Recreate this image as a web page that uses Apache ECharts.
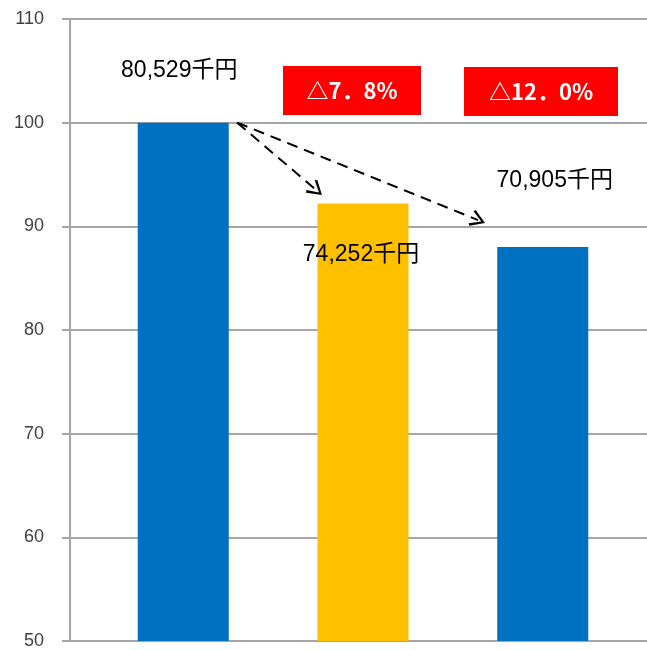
<!DOCTYPE html>
<html>
<head>
<meta charset="utf-8">
<script src="https://cdn.jsdelivr.net/npm/echarts@6/dist/echarts.min.js"></script>
<style>
  html, body { margin: 0; padding: 0; background: #fff; }
  #main { width: 647px; height: 650px; }
</style>
</head>
<body>
<div id="main"></div>
<script>
// index values (first year = 100) and the amounts shown as labels
const positions = [0, 1, 2];
const values = [100, 92.2, 88.0];
const amountLabels = ['80,529千円', '74,252千円', '70,905千円'];
const barColors = ['#0070C0', '#FFC000', '#0070C0'];
const changeLabels = ['△7．8%', '△12．0%'];
// arrows: from the top of the first bar towards the next bars (data coords)
const arrowFrom = [0.3, 100];
const arrowTo = [[0.74, 93.5], [1.64, 90.6]];

const chart = echarts.init(document.getElementById('main'));
const labelFont = 'Liberation Sans, "Noto Sans CJK JP", sans-serif';

const labelPlace = [
  { position: 'top', offset: [-4, -36] },
  { position: 'insideTop', offset: [-2, 35] },
  { position: 'top', offset: [12, -50] }
];

const option = {
  animation: false,
  grid: { left: 70, right: 0, top: 19, bottom: 7 },
  xAxis: {
    type: 'value',
    min: -0.63,
    max: 2.58,
    show: false,
    splitLine: { show: false }
  },
  yAxis: {
    type: 'value',
    min: 50,
    max: 110,
    interval: 10,
    axisLine: { show: true, onZero: false, lineStyle: { color: '#A6A6A6', width: 2 } },
    axisTick: { show: true, length: 8, lineStyle: { color: '#A6A6A6', width: 2 } },
    splitLine: { show: true, lineStyle: { color: '#A6A6A6', width: 2 } },
    axisLabel: {
      margin: 26,
      fontSize: 18,
      color: '#404040',
      fontFamily: 'Liberation Sans, sans-serif'
    }
  },
  series: [
    {
      type: 'bar',
      barWidth: 91,
      data: values.map((v, i) => ({
        value: [positions[i], v],
        itemStyle: { color: barColors[i] },
        label: {
          show: true,
          formatter: amountLabels[i],
          position: labelPlace[i].position,
          offset: labelPlace[i].offset,
          fontSize: 23,
          color: '#000',
          fontFamily: labelFont
        }
      })),
      markLine: {
        silent: true,
        symbol: ['none', 'path://M5,0 L10,9 L8.8,10 L5,2.6 L1.2,10 L0,9 Z'],
        symbolSize: [17, 15],
        label: { show: false },
        lineStyle: { color: '#000', type: [11, 7], width: 2 },
        data: arrowTo.map((to) => [
          { coord: arrowFrom },
          { coord: to }
        ])
      }
    }
  ],
  graphic: [
    {
      type: 'group',
      left: 283,
      top: 66,
      children: [
        { type: 'rect', shape: { x: 0, y: 0, width: 138, height: 49 }, style: { fill: '#FF0000' } },
        {
          type: 'text', x: 69, y: 25,
          style: {
            text: changeLabels[0], fill: '#fff', align: 'center', verticalAlign: 'middle',
            font: 'bold 22px "Noto Sans CJK JP", sans-serif'
          }
        }
      ]
    },
    {
      type: 'group',
      left: 464,
      top: 67,
      children: [
        { type: 'rect', shape: { x: 0, y: 0, width: 154, height: 49 }, style: { fill: '#FF0000' } },
        {
          type: 'text', x: 77, y: 25,
          style: {
            text: changeLabels[1], fill: '#fff', align: 'center', verticalAlign: 'middle',
            font: 'bold 22px "Noto Sans CJK JP", sans-serif'
          }
        }
      ]
    }
  ]
};

chart.setOption(option);
</script>
</body>
</html>
